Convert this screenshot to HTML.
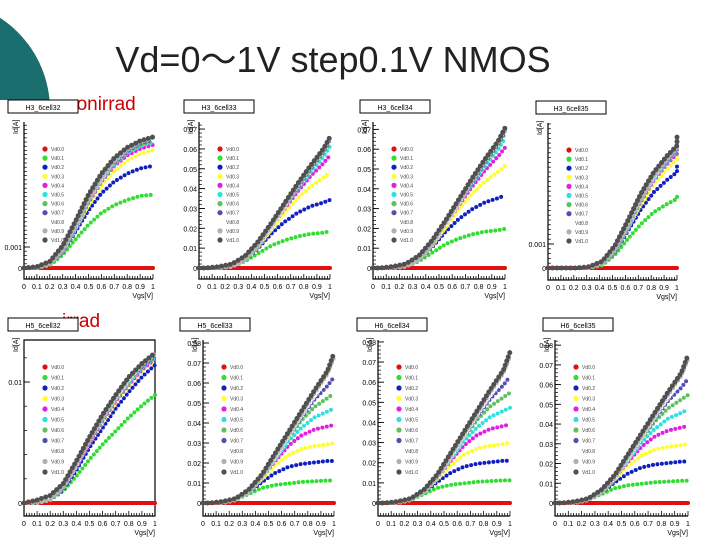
<!DOCTYPE html>
<html><head><meta charset="utf-8"><style>
body{margin:0;width:720px;height:540px;background:#fff;overflow:hidden;font-family:"Liberation Sans",sans-serif}
svg{position:absolute;left:0;top:0}
</style></head><body>
<svg id="s" width="720" height="540" xmlns="http://www.w3.org/2000/svg">
<defs><clipPath id="cc"><rect x="0" y="0" width="200" height="100"/></clipPath></defs>
<circle cx="-60" cy="110" r="110" fill="#1a6e6e" clip-path="url(#cc)"/>
<text x="333" y="72" font-size="36" text-anchor="middle" fill="#222" font-family="Liberation Sans, Noto Sans CJK JP, sans-serif">Vd=0～1V step0.1V NMOS</text>
<text x="66" y="110" font-size="19" fill="#c00">nonirrad</text>
<text x="62" y="327" font-size="19" fill="#c00">irrad</text>
</svg>
<script>
const vgs=[0,0.1,0.2,0.3,0.4,0.5,0.6,0.7,0.8,0.9,1];
const vdLabels=["Vd0.0","Vd0.1","Vd0.2","Vd0.3","Vd0.4","Vd0.5","Vd0.6","Vd0.7","Vd0.8","Vd0.9","Vd1.0"];
const satCurves=[
[0,0,0,0,0,0,0,0,0,0,0],
[0,0,0.02,0.1,0.22,0.33,0.42,0.48,0.52,0.55,0.56],
[0,0,0.03,0.12,0.28,0.44,0.57,0.66,0.72,0.76,0.78],
[0,0,0.03,0.12,0.3,0.48,0.63,0.74,0.82,0.87,0.9],
[0,0,0.03,0.12,0.31,0.5,0.66,0.78,0.86,0.91,0.94],
[0,0,0.03,0.12,0.31,0.51,0.67,0.79,0.88,0.93,0.96],
[0,0,0.03,0.12,0.32,0.51,0.68,0.8,0.89,0.94,0.97],
[0,0,0.03,0.12,0.32,0.52,0.68,0.8,0.89,0.95,0.98],
[0,0,0.03,0.13,0.32,0.52,0.68,0.81,0.9,0.96,0.99],
[0,0,0.03,0.13,0.32,0.52,0.69,0.81,0.9,0.96,0.995],
[0,0.01,0.05,0.17,0.36,0.56,0.72,0.84,0.92,0.97,1]];
const midCurves=[
[0,0,0,0,0,0,0,0,0,0,0],
[0,0,0.01,0.05,0.11,0.17,0.21,0.24,0.26,0.27,0.28],
[0,0,0.01,0.06,0.15,0.26,0.35,0.42,0.47,0.5,0.52],
[0,0,0.01,0.06,0.16,0.29,0.42,0.53,0.62,0.69,0.73],
[0,0,0.01,0.06,0.17,0.31,0.45,0.58,0.7,0.8,0.86],
[0,0,0.01,0.06,0.17,0.31,0.46,0.6,0.73,0.85,0.93],
[0,0,0.01,0.06,0.17,0.31,0.46,0.61,0.75,0.88,0.96],
[0,0,0.01,0.06,0.17,0.31,0.46,0.61,0.76,0.89,0.98],
[0,0,0.01,0.06,0.17,0.31,0.46,0.62,0.77,0.9,0.99],
[0,0,0.01,0.06,0.17,0.32,0.47,0.62,0.77,0.9,0.995],
[0,0.01,0.03,0.09,0.2,0.34,0.49,0.64,0.78,0.91,1]];
const linCurves=[
[0,0,0,0,0,0,0,0,0,0,0],
[0,0,0.02,0.08,0.18,0.29,0.39,0.48,0.57,0.65,0.72],
[0,0,0.02,0.09,0.22,0.37,0.5,0.63,0.74,0.84,0.92],
[0,0,0.02,0.1,0.24,0.4,0.54,0.67,0.78,0.88,0.95],
[0,0,0.02,0.1,0.24,0.4,0.55,0.68,0.79,0.89,0.96],
[0,0,0.02,0.1,0.25,0.41,0.56,0.69,0.8,0.9,0.97],
[0,0,0.02,0.1,0.25,0.41,0.56,0.69,0.81,0.91,0.98],
[0,0,0.02,0.1,0.25,0.42,0.57,0.7,0.82,0.91,0.98],
[0,0,0.02,0.1,0.25,0.42,0.57,0.7,0.82,0.92,0.99],
[0,0,0.02,0.1,0.26,0.42,0.57,0.71,0.83,0.92,0.995],
[0,0.02,0.05,0.13,0.28,0.44,0.59,0.72,0.84,0.93,1]];
const botCurves=[
[0,0,0,0,0,0,0,0,0,0,0],
[0,0,0.02,0.06,0.1,0.12,0.13,0.14,0.145,0.15,0.15],
[0,0,0.02,0.07,0.14,0.2,0.24,0.26,0.27,0.28,0.28],
[0,0,0.02,0.07,0.16,0.25,0.32,0.36,0.38,0.39,0.4],
[0,0,0.02,0.07,0.17,0.28,0.38,0.45,0.49,0.51,0.52],
[0,0,0.02,0.07,0.17,0.29,0.41,0.5,0.57,0.61,0.63],
[0,0,0.02,0.07,0.17,0.3,0.43,0.55,0.64,0.7,0.73],
[0,0,0.02,0.07,0.17,0.3,0.44,0.57,0.69,0.78,0.84],
[0,0,0.02,0.07,0.17,0.3,0.44,0.58,0.71,0.83,0.92],
[0,0,0.02,0.07,0.17,0.31,0.45,0.59,0.73,0.86,0.97],
[0,0.01,0.03,0.09,0.19,0.33,0.47,0.61,0.75,0.88,1]];
const curveSets=[satCurves,midCurves,midCurves,satCurves,linCurves,botCurves,botCurves,botCurves];
const panelTitles=["H3_6cell32","H3_6cell33","H3_6cell34","H3_6cell35","H5_6cell32","H5_6cell33","H6_6cell34","H6_6cell35"];
const panelShift=[0,0.05,0.05,0.22,0,0.05,0.05,0.05];
const panelIdMax=[0.00624,0.066,0.0707,0.00554,0.0124,0.075,0.075,0.075];
const ticksSmall=[0,0.001];
const ticksIrr1=[0,0.01];
const ticksMid=[0,0.01,0.02,0.03,0.04,0.05,0.06,0.07];
const ticksBig=[0,0.01,0.02,0.03,0.04,0.05,0.06,0.07,0.08];
const panelTicks=[ticksSmall,ticksMid,ticksMid,ticksSmall,ticksIrr1,ticksBig,ticksBig,ticksBig];
const xTickLabels=["0","0.1","0.2","0.3","0.4","0.5","0.6","0.7","0.8","0.9","1"];
const colors=["#e01010","#30dd30","#1020c0","#ffff30","#e020e0","#30e0e0","#60c060","#5050b0","#ffffff","#b0b0b0","#505050"];
const geo=[
{l:24,r:153,t:122,b:279,z:268,top:137,tx:8,f:0},
{l:199,r:330,t:122,b:279,z:268,top:137,tx:184,f:0},
{l:373,r:505,t:122,b:279,z:268,top:128,tx:360,f:0},
{l:548,r:677,t:123,b:280,z:268,top:135,tx:536,f:0},
{l:24,r:155,t:340,b:516,z:503,top:353,tx:8,f:1},
{l:203,r:334,t:340,b:516,z:503,top:353,tx:180,f:0},
{l:378,r:510,t:340,b:516,z:503,top:352,tx:357,f:0},
{l:555,r:688,t:340,b:516,z:503,top:355,tx:543,f:0}];
const NS="http://www.w3.org/2000/svg";
const svg=document.getElementById('s');
function mk(t,a,p){const e=document.createElementNS(NS,t);for(const k in a)e.setAttribute(k,a[k]);(p||svg).appendChild(e);return e;}
geo.forEach((g,pi)=>{
 const grp=mk('g',{});
 
 
 const tb=mk('rect',{x:g.tx,y:g.t-22,width:70,height:13,fill:'#fff',stroke:'#000','stroke-width':1},grp);
 
 
 const tt=mk('text',{x:g.tx+35,y:g.t-12,'font-size':7,'text-anchor':'middle'},grp);
 tt.textContent=panelTitles[pi];
 
 
 const X=v=>g.l+(g.r-g.l)*v;
 const Yn=v=>g.z-(g.z-g.top)*v;
 const Yv=v=>g.z-(g.z-g.top)*v/panelIdMax[pi];
 const ax=mk('path',{d:g.f?`M${g.l},${g.t}V${g.b}H${g.r}V${g.t}Z`:`M${g.l},${g.t}V${g.b}H${g.r}`,fill:'none',stroke:'#000','stroke-width':1.2},grp);
 
 
 for(let i=0;i<=50;i++){const x=X(i/50);mk('line',{x1:x,x2:x,y1:g.b,y2:g.b-(i%5==0?5:3),stroke:'#000','stroke-width':0.8},grp);}
 xTickLabels.forEach((s,i)=>{const t=mk('text',{x:X(i/10),y:g.b+10,'font-size':7,'text-anchor':'middle'},grp);t.textContent=s;
  
  });
 const xl=mk('text',{x:g.r,y:g.b+19,'font-size':7,'text-anchor':'end'},grp);xl.textContent='Vgs[V]';
 
 
 const yl=mk('text',{x:g.l-6,y:g.t+12,'font-size':7,transform:`rotate(-90 ${g.l-6} ${g.t+12})`},grp);yl.textContent='Id[A]';
 
 
 const ticks=panelTicks[pi];
 const dv=ticks[1]-ticks[0];
 for(let v=0;Yv(v)>=g.t;v+=dv/5){const y=Yv(v);mk('line',{x1:g.l,x2:g.l+3,y1:y,y2:y,stroke:'#000','stroke-width':0.7},grp);}
 ticks.forEach(v=>{const y=Yv(v);
  mk('line',{x1:g.l,x2:g.l+6,y1:y,y2:y,stroke:'#000','stroke-width':0.9},grp);
  const t=mk('text',{x:g.l-2,y:y+3,'font-size':7,'text-anchor':'end'},grp);t.textContent=String(v);
  
  });
 const curves=curveSets[pi];
 for(let k=0;k<curves.length;k++){
  const pts=vgs.map((v,i)=>{const xv=Math.min(1,v+panelShift[pi]);return [X(xv),Yn(curves[k][i])];});
  pts.unshift([X(0),Yn(0)]);
  const c=mk('polyline',{points:pts.map(p=>p.join(',')).join(' '),fill:'none',stroke:colors[k],'stroke-width':k==10?5:4,'stroke-linecap':'round','stroke-linejoin':'round','stroke-dasharray':k==0?'none':'0 4.5'},grp);
  
  
  const ly=g.t+27+k*(pi<4?9.1:10.5);
  const lm=mk('circle',{cx:g.l+21,cy:ly,r:2.6,fill:colors[k]},grp);
  
  
  const lt=mk('text',{x:g.l+27,y:ly+2,'font-size':5,fill:'#444'},grp);lt.textContent=vdLabels[k];
  
  
 }
});
</script>
</body></html>
